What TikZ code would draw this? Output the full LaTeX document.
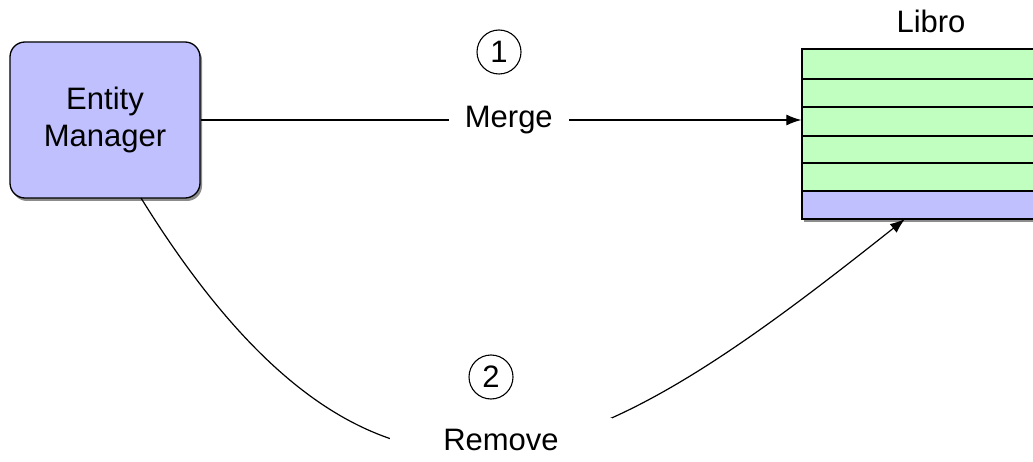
\documentclass[tikz,border=0pt]{standalone}
\usepackage{fontspec}
\setmainfont{Liberation Sans}
\usetikzlibrary{arrows.meta,shadows,calc}
\definecolor{lav}{RGB}{192,192,255}
\definecolor{lgreen}{RGB}{192,255,192}
\begin{document}
\begin{tikzpicture}[x=1pt,y=1pt,
  font=\fontsize{31}{37}\selectfont,
  line width=1.3pt,
  shade/.style={drop shadow={shadow xshift=2pt,shadow yshift=-3pt,opacity=0.45,fill=black}},
  entbox/.style={draw,fill=lav,rounded corners=15pt,minimum width=190pt,minimum height=156pt,align=center,shade,inner sep=0pt},
  tablebox/.style={draw,fill=lgreen,minimum width=258pt,minimum height=170pt,shade,inner sep=0pt},
  lbl/.style={fill=white,inner sep=0pt,minimum height=40pt},
  numc/.style={draw,circle,minimum size=44pt,inner sep=0pt,line width=1.1pt},
  arr/.style={-{Latex[length=15pt,width=11pt]}},
  conn/.style={line width=1.2pt}
]
\clip (0,0) rectangle (1033,461);
\fill[white] (0,0) rectangle (1033,461);

\node[entbox] (em) at (105,341) {Entity\\Manager};

\node[tablebox] (libro) at (931,327) {};
\fill[lav] (802,242) rectangle (1060,270);
\foreach \yy in {382,354,325,298,270} \draw (802,\yy) -- (1060,\yy);
\draw (802,242) rectangle (1060,412);
\node (librolbl) at (931,440) {Libro};

\node[numc] (n1) at (499,409) {1};
\node[numc] (n2) at (491,84) {2};

\draw[conn,arr] (em.east) -- node[lbl,pos=0.513,minimum width=120pt] (merge) {Merge} (em.east -| libro.west);

\coordinate (rs) at (141,263);
\coordinate (re) at (905,242);
\draw[conn,arr] (rs) .. controls (389,-137) and (600,0) .. (re);
\node[lbl,minimum width=222pt,minimum height=44pt] (remove) at (501,21) {Remove};
\end{tikzpicture}
\end{document}
